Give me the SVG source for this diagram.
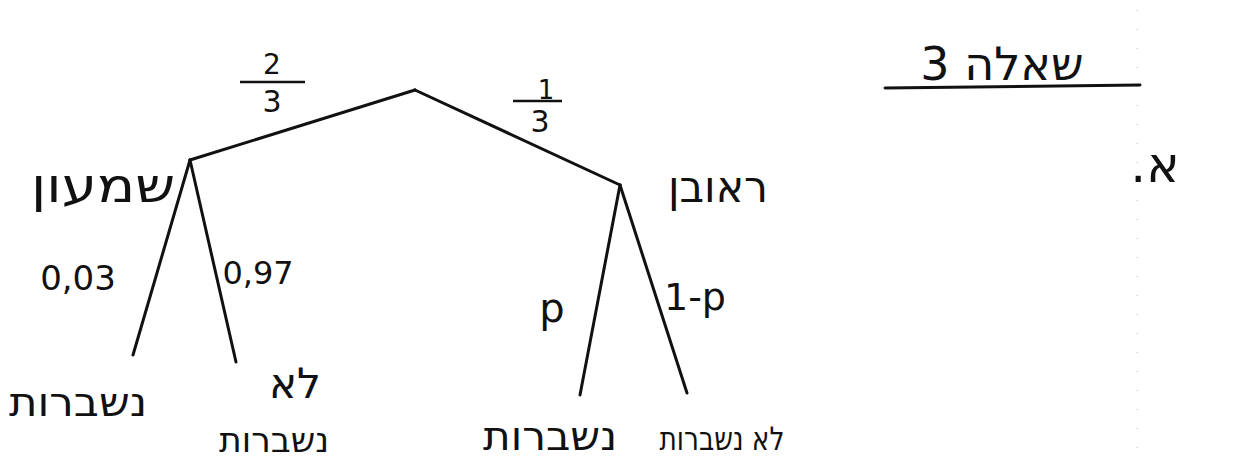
<svg xmlns="http://www.w3.org/2000/svg" width="1237" height="465" viewBox="0 0 1237 465">
<style>
.t{font-family:"DejaVu Sans","Liberation Sans",sans-serif;fill:#111;text-anchor:middle}
.he{direction:rtl;unicode-bidi:embed}
.e{stroke:#111;stroke-width:3;fill:none;stroke-linecap:round}
.bar{stroke:#111;stroke-width:2.5;fill:none}
</style>
<rect width="1237" height="465" fill="#fff"/>
<line x1="1137" y1="10" x2="1137" y2="465" stroke="#bbb" stroke-width="1" stroke-dasharray="1 18"/>
<g id="title">
<text class="t he" x="1002" y="80" font-size="46">שאלה 3</text>
<line class="e" x1="885" y1="88" x2="1140" y2="85"/>
<text class="t he" x="1155" y="182" font-size="50">א.</text>
</g>
<g id="connectors">
<line class="e" x1="415" y1="90" x2="190" y2="160"/>
<line class="e" x1="415" y1="90" x2="620" y2="185"/>
<line class="e" x1="190" y1="160" x2="133" y2="355"/>
<line class="e" x1="190" y1="160" x2="236" y2="362"/>
<line class="e" x1="620" y1="185" x2="580" y2="395"/>
<line class="e" x1="620" y1="185" x2="687" y2="393"/>
</g>
<g id="edge-labels">
<text class="t" x="272" y="74" font-size="28">2</text>
<line class="bar" x1="240" y1="82" x2="305" y2="82"/>
<text class="t" x="272" y="112" font-size="30">3</text>
<text class="t" x="546" y="99" font-size="26">1</text>
<line class="bar" x1="513" y1="101" x2="562" y2="101"/>
<text class="t" x="540" y="132" font-size="30">3</text>
<text class="t" x="78" y="290" font-size="34">0,03</text>
<text class="t" x="258" y="284" font-size="32">0,97</text>
<text class="t" x="552" y="322" font-size="40">p</text>
<text class="t" x="695" y="310" font-size="38">1-p</text>
</g>
<g id="root"><circle cx="415" cy="90" r="1.5" fill="#111"/></g>
<g id="shimon"><text class="t he" x="103" y="202" font-size="48" textLength="144" lengthAdjust="spacingAndGlyphs">שמעון</text></g>
<g id="reuven"><text class="t he" x="718" y="202" font-size="44" textLength="100" lengthAdjust="spacingAndGlyphs">ראובן</text></g>
<g id="leaf-s-break"><text class="t he" x="78" y="416" font-size="40" textLength="138" lengthAdjust="spacingAndGlyphs">נשברות</text></g>
<g id="leaf-s-nobreak">
<text class="t he" x="295" y="398" font-size="42">לא</text>
<text class="t he" x="274" y="452" font-size="34" textLength="110" lengthAdjust="spacingAndGlyphs">נשברות</text>
</g>
<g id="leaf-r-break"><text class="t he" x="550" y="450" font-size="40" textLength="134" lengthAdjust="spacingAndGlyphs">נשברות</text></g>
<g id="leaf-r-nobreak"><text class="t he" x="722" y="450" font-size="32" textLength="125" lengthAdjust="spacingAndGlyphs">לא נשברות</text></g>
</svg>
